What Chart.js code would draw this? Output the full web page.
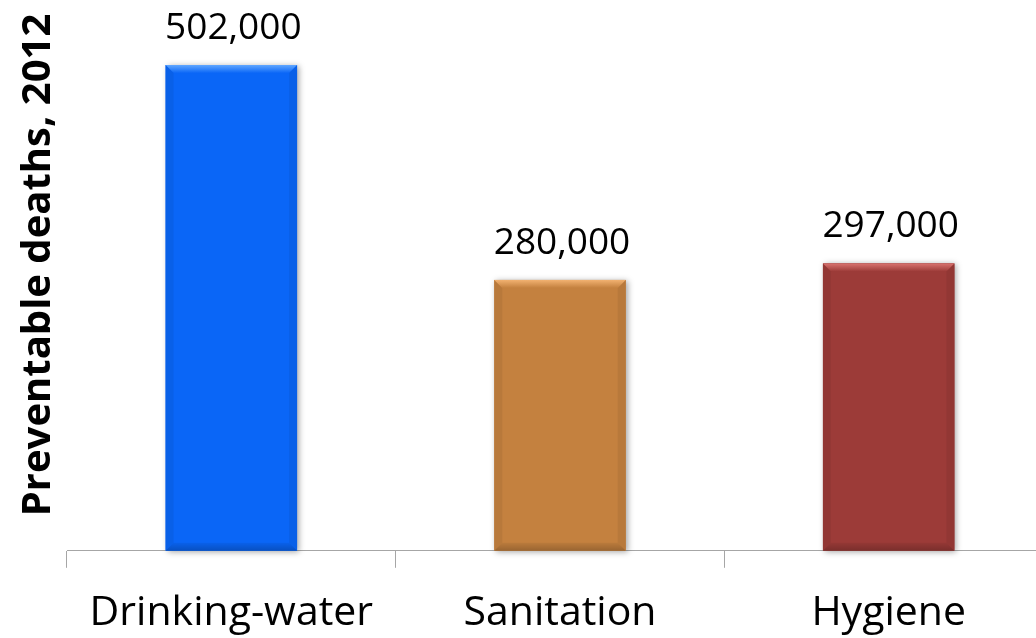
<!DOCTYPE html>
<html>
<head>
<meta charset="utf-8">
<script src="https://cdn.jsdelivr.net/npm/chart.js@4/dist/chart.umd.min.js"></script>
<style>
  html, body { margin: 0; padding: 0; background: #fff; overflow: hidden; }
  #wrap { width: 1036px; height: 638px; overflow: hidden; }
</style>
</head>
<body>
<div id="wrap"><canvas id="deathsChart" width="1053" height="659"></canvas></div>
<script>
// =====================================================
// DATA
// =====================================================
const categories = ["Drinking-water", "Sanitation", "Hygiene"];
const deaths = [502000, 280000, 297000];
const barColors = ["#0a66f7", "#c4813f", "#9c3b38"];
const bevelLight = ["#5fa6ff", "#f2b271", "#d9736f"];
const axisTitle = "Preventable deaths, 2012";

const FONT = "'Open Sans', sans-serif";

// drop shadow behind each bar
const barShadow = {
    id: 'barShadow',
    beforeDatasetsDraw(chart) {
        const ctx = chart.ctx;
        chart.getDatasetMeta(0).data.forEach((bar, i) => {
            const p = bar.getProps(['x', 'y', 'width', 'base'], true);
            ctx.save();
            ctx.shadowColor = 'rgba(0,0,0,0.35)';
            ctx.shadowBlur = 6;
            ctx.shadowOffsetX = 2;
            ctx.shadowOffsetY = 1;
            ctx.fillStyle = barColors[i];
            ctx.fillRect(p.x - p.width / 2, p.y, p.width, p.base - p.y);
            ctx.restore();
        });
    }
};

// bevel edges on top of the flat bars
const barBevel = {
    id: 'barBevel',
    afterDatasetsDraw(chart) {
        const ctx = chart.ctx;
        const b = 8;
        chart.getDatasetMeta(0).data.forEach((bar, i) => {
            const p = bar.getProps(['x', 'y', 'width', 'base'], true);
            const l = p.x - p.width / 2, r = p.x + p.width / 2, t = p.y, bot = p.base;
            ctx.save();
            // top
            let g = ctx.createLinearGradient(0, t, 0, t + b);
            g.addColorStop(0, bevelLight[i]);
            g.addColorStop(1, barColors[i]);
            ctx.fillStyle = g;
            ctx.beginPath();
            ctx.moveTo(l, t); ctx.lineTo(r, t); ctx.lineTo(r - b, t + b); ctx.lineTo(l + b, t + b);
            ctx.closePath(); ctx.fill();
            // sides
            ctx.fillStyle = 'rgba(0,0,0,0.06)';
            ctx.beginPath();
            ctx.moveTo(l, t); ctx.lineTo(l + b, t + b); ctx.lineTo(l + b, bot - b); ctx.lineTo(l, bot);
            ctx.closePath(); ctx.fill();
            ctx.beginPath();
            ctx.moveTo(r, t); ctx.lineTo(r - b, t + b); ctx.lineTo(r - b, bot - b); ctx.lineTo(r, bot);
            ctx.closePath(); ctx.fill();
            // bottom
            g = ctx.createLinearGradient(0, bot - b, 0, bot);
            g.addColorStop(0, 'rgba(0,0,0,0.05)');
            g.addColorStop(1, 'rgba(0,0,0,0.22)');
            ctx.fillStyle = g;
            ctx.beginPath();
            ctx.moveTo(l, bot); ctx.lineTo(r, bot); ctx.lineTo(r - b, bot - b); ctx.lineTo(l + b, bot - b);
            ctx.closePath(); ctx.fill();
            ctx.restore();
        });
    }
};

// value labels above bars + rotated y title
const labelsPlugin = {
    id: 'labelsPlugin',
    afterDraw(chart) {
        const ctx = chart.ctx;
        ctx.save();
        ctx.fillStyle = '#000';
        ctx.font = '37px ' + FONT;
        ctx.textAlign = 'center';
        ctx.textBaseline = 'alphabetic';
        chart.getDatasetMeta(0).data.forEach((bar, i) => {
            ctx.fillText(deaths[i].toLocaleString('en-US'), bar.x + 2, bar.y - 26);
        });
        ctx.translate(50, 265);
        ctx.rotate(-Math.PI / 2);
        ctx.font = 'bold 40px ' + FONT;
        ctx.fillText(axisTitle, 0, 0);
        ctx.restore();
    }
};

new Chart(document.getElementById('deathsChart'), {
    type: 'bar',
    data: {
        labels: categories,
        datasets: [{
            data: deaths,
            backgroundColor: barColors,
            borderWidth: 0,
            barPercentage: 0.8,
            categoryPercentage: 0.5
        }]
    },
    options: {
        responsive: false,
        animation: false,
        layout: { padding: { left: 67, right: 0, top: 9, bottom: 0 } },
        plugins: {
            legend: { display: false },
            tooltip: { enabled: false }
        },
        scales: {
            y: { display: false, min: 0, max: 560000 },
            x: {
                border: { display: true, color: '#a6a6a6', width: 1 },
                grid: {
                    offset: true,
                    drawOnChartArea: false,
                    drawTicks: true,
                    tickLength: 17,
                    color: '#a6a6a6'
                },
                ticks: {
                    color: '#000',
                    padding: 21,
                    font: { family: FONT, size: 41 }
                }
            }
        }
    },
    plugins: [barShadow, barBevel, labelsPlugin]
});
</script>
</body>
</html>
